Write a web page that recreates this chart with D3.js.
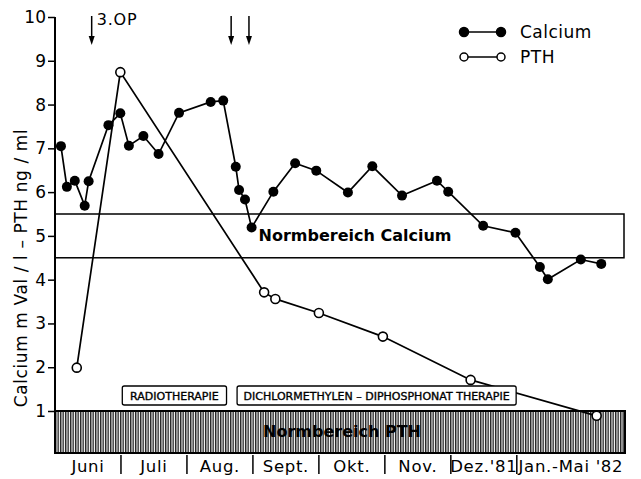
<!DOCTYPE html>
<html>
<head>
<meta charset="utf-8">
<script src="https://cdn.jsdelivr.net/npm/d3@7/dist/d3.min.js"></script>
<style>
  body { margin: 0; background: #fff; }
  svg { display: block; font-family: "DejaVu Sans", sans-serif; }
</style>
</head>
<body>
<svg id="chart" width="641" height="479"></svg>
<script>
// time in months from start of June (Jan.-Mai '82 is squeezed into the last segment)
const months = ["Juni", "Juli", "Aug.", "Sept.", "Okt.", "Nov.", "Dez.'81", "Jan.-Mai '82"];
const monthEdges = [0, 1, 2, 3, 4, 5, 6, 7, 8.64];
const yTicks = [1, 2, 3, 4, 5, 6, 7, 8, 9, 10];

const calciumT = [0.09, 0.18, 0.30, 0.45, 0.51, 0.81, 0.99, 1.12, 1.34, 1.57, 1.88, 2.36, 2.55, 2.74, 2.79, 2.88, 2.98,
                  3.31, 3.64, 3.96, 4.44, 4.81, 5.26, 5.79, 5.96, 6.49, 6.98, 7.35, 7.47, 7.97, 8.28];
const calciumV = [7.05, 6.12, 6.26, 5.69, 6.25, 7.53, 7.80, 7.06, 7.28, 6.87, 7.81, 8.06, 8.09, 6.58, 6.05, 5.83, 5.19,
                  6.01, 6.66, 6.49, 5.99, 6.59, 5.92, 6.26, 6.01, 5.23, 5.07, 4.29, 4.01, 4.46, 4.36];

const pthT = [0.33, 0.99, 3.17, 3.34, 4.00, 4.97, 6.30, 8.21];
const pthV = [1.99, 8.74, 3.71, 3.56, 3.24, 2.70, 1.71, 0.89];

const calciumNorm = [4.5, 5.5];
const pthNormTop = 1;

const arrows = [0.556, 2.67, 2.94];
const therapies = [
  {label: "RADIOTHERAPIE", from: 1.02, to: 2.6},
  {label: "DICHLORMETHYLEN \u2013 DIPHOSPHONAT THERAPIE", from: 2.76, to: 6.99}
];

const svg = d3.select("#chart");
const pLeft = 55, pRight = 625, pTop = 17, pBase = 411, pBottom = 453;

const x = d3.scaleLinear().domain([0, 8.64]).range([pLeft, pRight]);
const y = d3.scaleLinear().domain([1, 10]).range([pBase, pTop]);

// hatch pattern for PTH normal range
const defs = svg.append("defs");
const pat = defs.append("pattern")
  .attr("id", "hatch")
  .attr("patternUnits", "userSpaceOnUse")
  .attr("width", 2.5).attr("height", 10);
pat.append("rect").attr("width", 2.5).attr("height", 10).attr("fill", "#fff");
pat.append("rect").attr("width", 1.4).attr("height", 10).attr("fill", "#222");

svg.append("rect")
  .attr("x", pLeft).attr("y", y(pthNormTop))
  .attr("width", pRight - pLeft).attr("height", pBottom - y(pthNormTop))
  .attr("fill", "url(#hatch)")
  .attr("stroke", "#000").attr("stroke-width", 2);

svg.append("text")
  .attr("x", 342).attr("y", 437)
  .attr("text-anchor", "middle")
  .attr("font-size", 16).attr("font-weight", "bold")
  .attr("fill", "#000")
  .text("Normbereich PTH");

// calcium normal range box
svg.append("rect")
  .attr("x", pLeft).attr("y", y(calciumNorm[1]))
  .attr("width", 624 - pLeft).attr("height", y(calciumNorm[0]) - y(calciumNorm[1]))
  .attr("fill", "none")
  .attr("stroke", "#000").attr("stroke-width", 1.5);

svg.append("text")
  .attr("x", 355).attr("y", 241)
  .attr("text-anchor", "middle")
  .attr("font-size", 16).attr("font-weight", "bold")
  .text("Normbereich Calcium");

// y axis
const yAxis = svg.append("g")
  .attr("transform", "translate(" + pLeft + ",0)")
  .call(d3.axisLeft(y).tickValues(yTicks).tickSize(7).tickPadding(2).tickFormat(d3.format("d")));
yAxis.select(".domain").remove();
yAxis.selectAll("line").attr("stroke-width", 1.5);
yAxis.selectAll("text").attr("font-size", 17).attr("font-family", "DejaVu Sans").attr("fill", "#000");

svg.append("line")
  .attr("x1", pLeft).attr("x2", pLeft)
  .attr("y1", pTop).attr("y2", pBottom)
  .attr("stroke", "#000").attr("stroke-width", 2);

svg.append("text")
  .attr("transform", "translate(27," + 268 + ") rotate(-90)")
  .attr("text-anchor", "middle")
  .attr("font-size", 17)
  .attr("letter-spacing", 0.6)
  .text("Calcium  m Val / l  \u2013  PTH ng / ml");

// month separators and labels
svg.selectAll(".sep")
  .data(monthEdges.slice(1, -1))
  .enter()
  .append("line")
  .attr("x1", d => x(d)).attr("x2", d => x(d))
  .attr("y1", pBottom + 2).attr("y2", 474)
  .attr("stroke", "#000").attr("stroke-width", 1.5);

svg.selectAll(".month")
  .data(months)
  .enter()
  .append("text")
  .attr("x", (d, i) => (x(monthEdges[i]) + x(monthEdges[i + 1])) / 2)
  .attr("y", 472)
  .attr("text-anchor", "middle")
  .attr("font-size", 16.5)
  .attr("letter-spacing", 0.7)
  .text(d => d);

// PTH line
const line = d3.line().x(d => x(d[0])).y(d => y(d[1]));
const pth = pthT.map((t, i) => [t, pthV[i]]);
const calcium = calciumT.map((t, i) => [t, calciumV[i]]);

svg.append("path")
  .attr("d", line(pth))
  .attr("fill", "none").attr("stroke", "#000").attr("stroke-width", 1.7);

// therapy labels (white boxes cover the line)
therapies.forEach(t => {
  svg.append("rect")
    .attr("x", x(t.from)).attr("y", 386)
    .attr("width", x(t.to) - x(t.from)).attr("height", 19)
    .attr("rx", 2)
    .attr("fill", "#fff").attr("stroke", "#000").attr("stroke-width", 1.3);
  svg.append("text")
    .attr("x", (x(t.from) + x(t.to)) / 2).attr("y", 400)
    .attr("text-anchor", "middle")
    .attr("font-size", 11)
    .attr("stroke", "#000").attr("stroke-width", 0.35)
    .text(t.label);
});

svg.selectAll(".pth")
  .data(pth)
  .enter()
  .append("circle")
  .attr("cx", d => x(d[0])).attr("cy", d => y(d[1]))
  .attr("r", 4.5)
  .attr("fill", "#fff").attr("stroke", "#000").attr("stroke-width", 1.6);

// calcium line
svg.append("path")
  .attr("d", line(calcium))
  .attr("fill", "none").attr("stroke", "#000").attr("stroke-width", 1.7);

svg.selectAll(".ca")
  .data(calcium)
  .enter()
  .append("circle")
  .attr("cx", d => x(d[0])).attr("cy", d => y(d[1]))
  .attr("r", 5)
  .attr("fill", "#000");

// arrows
arrows.forEach(a => {
  svg.append("line")
    .attr("x1", x(a)).attr("x2", x(a))
    .attr("y1", 16).attr("y2", 40)
    .attr("stroke", "#000").attr("stroke-width", 1.5);
  svg.append("path")
    .attr("d", "M" + (x(a) - 3) + ",36 L" + x(a) + ",45 L" + (x(a) + 3) + ",36 Z")
    .attr("fill", "#000");
});
svg.append("text")
  .attr("x", x(arrows[0]) + 5).attr("y", 25)
  .attr("font-size", 16)
  .attr("letter-spacing", 0.8)
  .text("3.OP");

// legend
const legend = [
  {label: "Calcium", filled: true, y: 32},
  {label: "PTH", filled: false, y: 57}
];
legend.forEach(l => {
  svg.append("line")
    .attr("x1", 464).attr("x2", 501)
    .attr("y1", l.y).attr("y2", l.y)
    .attr("stroke", "#000").attr("stroke-width", 1.5);
  [464, 501].forEach(cx => {
    svg.append("circle")
      .attr("cx", cx).attr("cy", l.y)
      .attr("r", l.filled ? 4.5 : 4)
      .attr("fill", l.filled ? "#000" : "#fff")
      .attr("stroke", "#000").attr("stroke-width", 1.5);
  });
  svg.append("text")
    .attr("x", 520).attr("y", l.y + 6)
    .attr("font-size", 17)
    .attr("letter-spacing", 0.5)
    .text(l.label);
});
</script>
</body>
</html>
